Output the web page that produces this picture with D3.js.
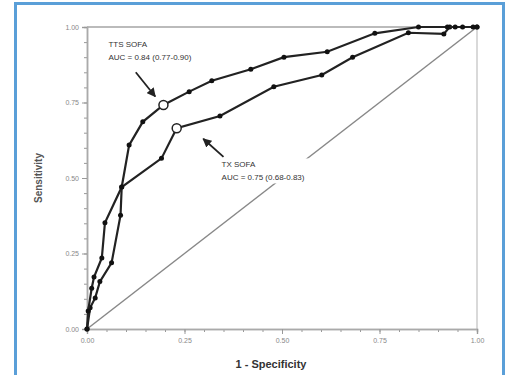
<!DOCTYPE html>
<html>
<head>
<meta charset="utf-8">
<script src="https://cdn.jsdelivr.net/npm/d3@7"></script>
<style>
  body { margin: 0; background: #fff; }
  svg { display: block; font-family: "Liberation Sans", Arial, sans-serif; }
  .tick text { fill: #888; font-size: 7px; }
  .domain { stroke: #aaa; }
  .tick line { stroke: #999; }
</style>
</head>
<body>
<div class="roc_wrapper"></div>
<script>
// TTS SOFA curve (upper)
const ttsX = [0, 0.003, 0.012, 0.018, 0.038, 0.046, 0.089, 0.108, 0.143, 0.196, 0.262, 0.32, 0.42, 0.505, 0.616, 0.738, 0.85, 0.924, 0.944, 0.963, 0.99, 1]
const ttsY = [0, 0.06, 0.135, 0.172, 0.235, 0.352, 0.47, 0.609, 0.686, 0.742, 0.786, 0.822, 0.86, 0.9, 0.918, 0.979, 1, 1, 1, 1, 1, 1]
const ttsCut = 9

// TX SOFA curve (lower)
const txX = [0, 0.008, 0.021, 0.033, 0.063, 0.086, 0.089, 0.191, 0.23, 0.341, 0.479, 0.602, 0.681, 0.824, 0.915, 0.93, 1]
const txY = [0, 0.07, 0.103, 0.157, 0.219, 0.377, 0.47, 0.565, 0.665, 0.705, 0.802, 0.841, 0.9, 0.981, 0.977, 1, 1]
const txCut = 8

const majorTicks = [0, 0.25, 0.5, 0.75, 1]
const minorTicks = d3.range(0, 1.0001, 0.05)

const labelTTS = ["TTS SOFA", "AUC = 0.84 (0.77-0.90)"]
const labelTX = ["TX SOFA", "AUC = 0.75 (0.68-0.83)"]

let dimensions = {
  width: 508,
  height: 375,
  margin: { top: 27, right: 31, bottom: 46, left: 87 },
}
dimensions.boundedWidth = dimensions.width - dimensions.margin.left - dimensions.margin.right
dimensions.boundedHeight = dimensions.height - dimensions.margin.top - dimensions.margin.bottom

const wrapper = d3.select(".roc_wrapper")
  .append("svg")
    .attr("width", dimensions.width)
    .attr("height", dimensions.height)

// blue frame
wrapper.append("rect")
  .attr("x", 15.5).attr("y", 3.5)
  .attr("width", 488).attr("height", 380)
  .attr("fill", "#fff")
  .attr("stroke", "#5a9fd8")
  .attr("stroke-width", 3)

const bounds = wrapper.append("g")
  .attr("transform", `translate(${dimensions.margin.left},${dimensions.margin.top})`)

const xScale = d3.scaleLinear().domain([0, 1]).range([0, dimensions.boundedWidth])
const yScale = d3.scaleLinear().domain([0, 1]).range([dimensions.boundedHeight, 0])

// top and right frame lines
bounds.append("line")
  .attr("x1", xScale(0)).attr("x2", xScale(1))
  .attr("y1", yScale(1)).attr("y2", yScale(1))
  .attr("stroke", "#bbb").attr("stroke-width", 2)
bounds.append("line")
  .attr("x1", xScale(1)).attr("x2", xScale(1))
  .attr("y1", yScale(1)).attr("y2", yScale(0))
  .attr("stroke", "#ccc").attr("stroke-width", 1.5)

// minor ticks
bounds.append("g")
  .attr("transform", `translate(0,${dimensions.boundedHeight})`)
  .call(d3.axisBottom(xScale).tickValues(minorTicks).tickSize(3).tickFormat(""))
bounds.append("g")
  .call(d3.axisLeft(yScale).tickValues(minorTicks).tickSize(3).tickFormat(""))

// major ticks
const xAxis = bounds.append("g")
  .attr("transform", `translate(0,${dimensions.boundedHeight})`)
  .call(d3.axisBottom(xScale).tickValues(majorTicks).tickSize(5).tickPadding(4).tickFormat(d3.format(".2f")))
const yAxis = bounds.append("g")
  .call(d3.axisLeft(yScale).tickValues(majorTicks).tickSize(5).tickPadding(3).tickFormat(d3.format(".2f")))
bounds.selectAll(".domain").attr("stroke-width", 1.5)

// axis titles
wrapper.append("text")
  .attr("x", 271).attr("y", 368)
  .attr("text-anchor", "middle")
  .attr("font-size", 11).attr("font-weight", "bold")
  .attr("fill", "#333")
  .text("1 - Specificity")

wrapper.append("text")
  .attr("transform", `translate(42,${yScale(0.5) + dimensions.margin.top}) rotate(-90)`)
  .attr("text-anchor", "middle")
  .attr("font-size", 10)
  .attr("font-weight", "bold")
  .attr("fill", "#555")
  .text("Sensitivity")

// diagonal reference line
bounds.append("line")
  .attr("x1", xScale(0)).attr("y1", yScale(0))
  .attr("x2", xScale(1)).attr("y2", yScale(1))
  .attr("stroke", "#888").attr("stroke-width", 1.5)

// curves
const line = d3.line().x(d => xScale(d[0])).y(d => yScale(d[1]))
const curves = [
  { pts: d3.zip(txX, txY), cut: txCut },
  { pts: d3.zip(ttsX, ttsY), cut: ttsCut },
]

curves.forEach(c => {
  bounds.append("path")
    .datum(c.pts)
    .attr("d", line)
    .attr("fill", "none")
    .attr("stroke", "#222")
    .attr("stroke-width", 2.2)

  bounds.selectAll(null)
    .data(c.pts.filter((d, i) => i !== c.cut))
    .enter()
    .append("circle")
      .attr("cx", d => xScale(d[0]))
      .attr("cy", d => yScale(d[1]))
      .attr("r", 2.5)
      .attr("fill", "#111")

  bounds.append("circle")
    .attr("cx", xScale(c.pts[c.cut][0]))
    .attr("cy", yScale(c.pts[c.cut][1]))
    .attr("r", 4.5)
    .attr("fill", "#fff")
    .attr("stroke", "#222")
    .attr("stroke-width", 1.5)
})

// arrows
wrapper.append("defs").append("marker")
  .attr("id", "arrowhead")
  .attr("viewBox", "0 0 10 10")
  .attr("refX", 9).attr("refY", 5)
  .attr("markerWidth", 5).attr("markerHeight", 5)
  .attr("orient", "auto")
  .append("path")
    .attr("d", "M0,0 L10,5 L0,10 Z")
    .attr("fill", "#222")

const arrows = [
  { from: [0.125, 0.85], to: [0.175, 0.77] },
  { from: [0.35, 0.57], to: [0.298, 0.63] },
]
bounds.selectAll(null)
  .data(arrows)
  .enter()
  .append("line")
    .attr("x1", d => xScale(d.from[0])).attr("y1", d => yScale(d.from[1]))
    .attr("x2", d => xScale(d.to[0])).attr("y2", d => yScale(d.to[1]))
    .attr("stroke", "#222").attr("stroke-width", 1.8)
    .attr("marker-end", "url(#arrowhead)")

// labels
function addLabel(lines, x, y, mask) {
  const g = bounds.append("g")
  if (mask) {
    g.append("rect")
      .attr("x", xScale(x) - 2).attr("y", yScale(y) - 9)
      .attr("width", 110).attr("height", 25)
      .attr("fill", "#fff")
  }
  g.selectAll("text")
    .data(lines)
    .enter()
    .append("text")
      .attr("x", xScale(x))
      .attr("y", (d, i) => yScale(y) + i * 13)
      .attr("font-size", 8)
      .attr("fill", "#333")
      .text(d => d)
}
addLabel(labelTTS, 0.055, 0.935, false)
addLabel(labelTX, 0.345, 0.535, true)
</script>
</body>
</html>
